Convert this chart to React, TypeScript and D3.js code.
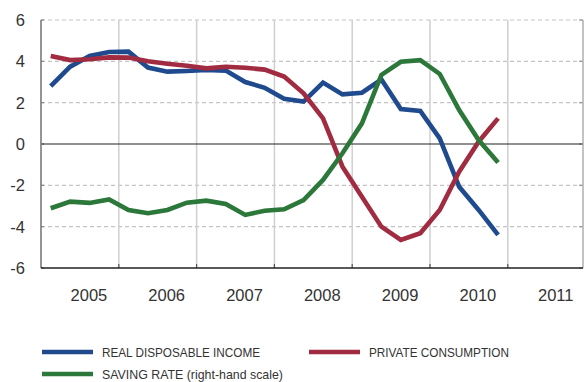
import React from "react";
import * as d3 from "d3";

const quarters: string[] = [];
["2005", "2006", "2007", "2008", "2009", "2010"].forEach((y) =>
  ["Q1", "Q2", "Q3", "Q4"].forEach((q) => quarters.push(y + q))
);

const realDisposableIncome = [
  2.8, 3.74, 4.26, 4.45, 4.47, 3.7, 3.5, 3.53, 3.58, 3.55, 3.0, 2.72,
  2.19, 2.05, 2.97, 2.4, 2.48, 3.12, 1.69, 1.6, 0.27, -2.07, -3.19, -4.4,
];
const privateConsumption = [
  4.26, 4.06, 4.1, 4.19, 4.18, 4.0, 3.88, 3.79, 3.66, 3.74, 3.69, 3.6,
  3.26, 2.45, 1.24, -1.1, -2.55, -4.0, -4.64, -4.32, -3.19, -1.34, 0.11, 1.24,
];
const savingRate = [
  -3.11, -2.79, -2.85, -2.68, -3.19, -3.35, -3.19, -2.84, -2.74, -2.9, -3.43, -3.23,
  -3.16, -2.71, -1.74, -0.45, 1.0, 3.34, 3.98, 4.06, 3.39, 1.64, 0.19, -0.9,
];

const yTicks = [-6, -4, -2, 0, 2, 4, 6];
const yearLabels = ["2005", "2006", "2007", "2008", "2009", "2010", "2011"];

const seriesNames = [
  "REAL DISPOSABLE INCOME",
  "PRIVATE CONSUMPTION",
  "SAVING RATE (right-hand scale)",
];
const colors = ["#1f4b8e", "#a12b40", "#2c773a"];

const W = 587;
const H = 382;
const left = 41;
const right = 583;
const top = 20;
const bottom = 268;

export default function App() {
  const x = d3.scaleLinear().domain([2005, 2012]).range([left, 585.6]);
  const y = d3.scaleLinear().domain([-6, 6]).range([bottom, top]);
  const qx = (q: string) => {
    const yr = +q.slice(0, 4);
    const qi = +q.slice(5) - 1;
    return x(yr + (qi + 0.5) / 4);
  };
  const line = (vals: number[]) =>
    d3
      .line<number>()
      .x((_, i) => qx(quarters[i]))
      .y((d) => y(d))(vals) as string;

  const series = [realDisposableIncome, privateConsumption, savingRate];
  const font = "'Liberation Sans', Arial, Helvetica, sans-serif";
  const legendWidths = [158, 140, 181];

  return (
    <svg
      width={W}
      height={H}
      style={{ position: "absolute", left: 0, top: 0, background: "#fff" }}
    >
      {/* horizontal grid */}
      {yTicks
        .filter((t) => t !== 0 && t !== -6)
        .map((t) => (
          <line
            key={"h" + t}
            x1={left}
            x2={right}
            y1={y(t)}
            y2={y(t)}
            stroke="#c4c4c4"
            strokeWidth={1.2}
            strokeDasharray="4,3"
          />
        ))}
      {/* vertical grid */}
      {yearLabels.slice(1).map((yr) => (
        <line
          key={"v" + yr}
          x1={x(+yr)}
          x2={x(+yr)}
          y1={top}
          y2={bottom}
          stroke="#cfcfcf"
          strokeWidth={1.5}
        />
      ))}
      {/* bottom ticks */}
      {yearLabels.slice(1).map((yr) => (
        <line
          key={"bt" + yr}
          x1={x(+yr)}
          x2={x(+yr)}
          y1={bottom - 4}
          y2={bottom}
          stroke="#555"
          strokeWidth={1.2}
        />
      ))}
      {/* right axis ticks */}
      {yTicks.map((t) => (
        <line
          key={"rt" + t}
          x1={right - 4}
          x2={right}
          y1={y(t)}
          y2={y(t)}
          stroke="#999"
          strokeWidth={1.2}
        />
      ))}
      {/* left axis ticks */}
      {yTicks.map((t) => (
        <line
          key={"lt" + t}
          x1={left}
          x2={left + 3}
          y1={y(t)}
          y2={y(t)}
          stroke="#888"
          strokeWidth={1.2}
        />
      ))}
      {/* zero line */}
      <line x1={left} x2={right} y1={y(0)} y2={y(0)} stroke="#222" strokeWidth={1.2} />
      {/* axes */}
      <line x1={left} x2={left} y1={top} y2={bottom} stroke="#7a7a7a" strokeWidth={1.6} />
      <line x1={right} x2={right} y1={top} y2={bottom} stroke="#aaa" strokeWidth={1.4} />
      <line x1={left} x2={right} y1={bottom} y2={bottom} stroke="#222" strokeWidth={1.3} />

      {/* series: blue bottom, red, green top */}
      {[0, 1, 2].map((k) => (
        <path
          key={"s" + k}
          d={line(series[k])}
          fill="none"
          stroke={colors[k]}
          strokeWidth={4.6}
          strokeLinejoin="miter"
        />
      ))}

      {/* y labels */}
      {yTicks.map((t) => (
        <text
          key={"yl" + t}
          x={25}
          y={y(t)}
          dy="0.36em"
          textAnchor="end"
          fontFamily={font}
          fontSize={16.5}
          fill="#333"
        >
          {t}
        </text>
      ))}
      {/* x labels */}
      {yearLabels.map((yr) => (
        <text
          key={"xl" + yr}
          x={x(+yr + 0.5) + 9}
          y={301}
          textAnchor="middle"
          fontFamily={font}
          fontSize={16.5}
          fill="#333"
        >
          {yr}
        </text>
      ))}

      {/* legend */}
      {[
        { k: 0, lx: 42, ly: 352 },
        { k: 1, lx: 309, ly: 352 },
        { k: 2, lx: 42, ly: 374 },
      ].map(({ k, lx, ly }) => (
        <g key={"lg" + k}>
          <line x1={lx} x2={lx + 51} y1={ly} y2={ly} stroke={colors[k]} strokeWidth={4.6} />
          <text
            x={lx + 60}
            y={ly}
            dy="0.34em"
            fontFamily={font}
            fontSize={13.5}
            fill="#333"
            textLength={legendWidths[k]}
            lengthAdjust="spacingAndGlyphs"
          >
            {seriesNames[k]}
          </text>
        </g>
      ))}
    </svg>
  );
}
